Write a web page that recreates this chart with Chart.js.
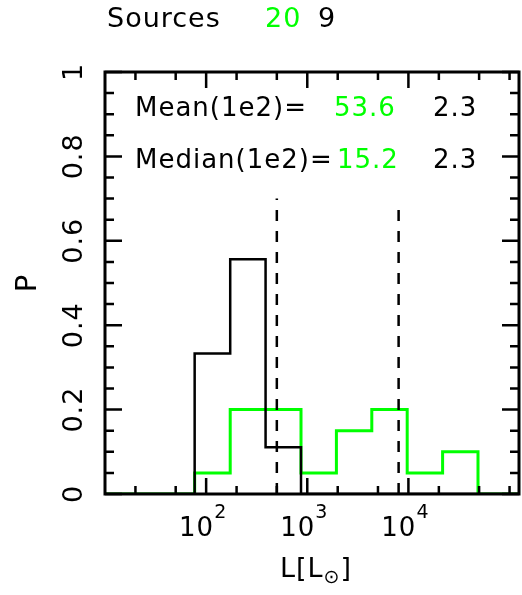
<!DOCTYPE html>
<html>
<head>
<meta charset="utf-8">
<script src="https://cdn.jsdelivr.net/npm/chart.js@4/dist/chart.umd.min.js"></script>
<style>
  html, body { margin: 0; padding: 0; background: #fff; }
  #wrap { width: 522px; height: 595px; }
</style>
</head>
<body>
<div id="wrap"><canvas id="histChart" width="522" height="595"></canvas></div>
<script>
// histogram bin edges, L in Lsun (0.35 dex bins)
const binEdges = [77, 173, 387, 867, 1941, 4345, 9727, 21777, 48753];
const probAll = [0.05, 0.20, 0.20, 0.05, 0.15, 0.20, 0.05, 0.10];   // green, 20 sources
const probSub = [0.333, 0.556, 0.111, 0, 0, 0, 0, 0];               // black, 9 sources
const markerX = [500, 8000];
const markerTop = [0.70, 0.68];
const xRange = [10, 124000];

const xMajor = [100, 1000, 10000];
const xMajorExp = ['2', '3', '4'];
const xMinor = [20, 50, 200, 500, 2000, 5000, 20000, 50000, 100000];
const yMajor = [0, 0.2, 0.4, 0.6, 0.8, 1];
const yMajorLabels = ['0', '0.2', '0.4', '0.6', '0.8', '1'];
const yMinor = [0.05, 0.1, 0.15, 0.25, 0.3, 0.35, 0.45, 0.5, 0.55, 0.65, 0.7, 0.75, 0.85, 0.9, 0.95];

const sourceCounts = ['20', '9'];
const statNames = ['Mean(1e2)=', 'Median(1e2)='];
const statAll = ['53.6', '15.2'];
const statSub = ['2.3', '2.3'];

const GREEN = '#00ff00';
const FONT = '"DejaVu Sans", sans-serif';

function stepPoints(vals) {
    const pts = [{ x: xRange[0], y: 0 }];
    vals.forEach((v, i) => pts.push({ x: binEdges[i], y: v }));
    pts.push({ x: binEdges[vals.length], y: 0 });
    pts.push({ x: xRange[1], y: 0 });
    return pts;
}

function markerLine(i) {
    return {
        data: [{ x: markerX[i], y: 0 }, { x: markerX[i], y: markerTop[i] }],
        borderColor: '#000',
        borderWidth: 2.5,
        borderDash: [11, 10]
    };
}

const framePlugin = {
    id: 'frame',
    afterDraw(chart) {
        const c = chart.ctx;
        const a = chart.chartArea;
        const xs = chart.scales.x, ys = chart.scales.y;
        c.save();
        c.strokeStyle = '#000';
        c.fillStyle = '#000';

        // inward ticks on all four sides
        c.lineWidth = 2.5;
        const tick = (px, len, vertical) => {
            c.beginPath();
            if (vertical) {
                c.moveTo(px, a.bottom); c.lineTo(px, a.bottom - len);
                c.moveTo(px, a.top); c.lineTo(px, a.top + len);
            } else {
                c.moveTo(a.left, px); c.lineTo(a.left + len, px);
                c.moveTo(a.right, px); c.lineTo(a.right - len, px);
            }
            c.stroke();
        };
        xMajor.forEach(v => tick(xs.getPixelForValue(v), 16, true));
        xMinor.forEach(v => tick(xs.getPixelForValue(v), 8, true));
        yMajor.forEach(v => tick(ys.getPixelForValue(v), 17, false));
        yMinor.forEach(v => tick(ys.getPixelForValue(v), 9, false));

        // frame
        c.lineWidth = 3;
        c.strokeRect(a.left, a.top, a.right - a.left, a.bottom - a.top);

        c.letterSpacing = '1px';

        // x tick labels 10^n
        c.textBaseline = 'alphabetic';
        xMajor.forEach((v, i) => {
            const px = xs.getPixelForValue(v);
            c.font = '26px ' + FONT;
            c.textAlign = 'right';
            c.fillText('10', px + 8, a.bottom + 42);
            c.font = '19px ' + FONT;
            c.textAlign = 'left';
            c.fillText(xMajorExp[i], px + 8, a.bottom + 24);
        });

        // y tick labels, rotated
        c.font = '27px ' + FONT;
        c.textAlign = 'center';
        c.textBaseline = 'middle';
        yMajor.forEach((v, i) => {
            c.save();
            c.translate(a.left - 30, ys.getPixelForValue(v));
            c.rotate(-Math.PI / 2);
            c.fillText(yMajorLabels[i], 0, 0);
            c.restore();
        });

        // y title
        c.font = '29px ' + FONT;
        c.save();
        c.translate(28, (a.top + a.bottom) / 2);
        c.rotate(-Math.PI / 2);
        c.fillText('P', 0, 0);
        c.restore();

        // x title L[L_sun]
        c.textBaseline = 'alphabetic';
        c.textAlign = 'left';
        c.font = '27px ' + FONT;
        const base = 577;
        const w1 = c.measureText('L[L').width;
        c.font = '19px ' + FONT;
        const w2 = c.measureText('\u2299').width;
        c.font = '27px ' + FONT;
        const w3 = c.measureText(']').width;
        let tx = (a.left + a.right) / 2 + 4 - (w1 + w2 + w3) / 2;
        c.fillText('L[L', tx, base);
        c.font = '19px ' + FONT;
        c.fillText('\u2299', tx + w1, base + 6);
        c.font = '27px ' + FONT;
        c.fillText(']', tx + w1 + w2, base);

        // header
        c.font = '27px ' + FONT;
        c.fillText('Sources', 107, 27);
        c.fillStyle = GREEN;
        c.fillText(sourceCounts[0], 265, 27);
        c.fillStyle = '#000';
        c.fillText(sourceCounts[1], 318, 27);

        // stats inside plot
        c.font = '26px ' + FONT;
        const rows = [116, 168];
        const greenX = [334, 337];
        rows.forEach((y, i) => {
            c.fillStyle = '#000';
            c.fillText(statNames[i], 135, y);
            c.fillStyle = GREEN;
            c.fillText(statAll[i], greenX[i], y);
            c.fillStyle = '#000';
            c.fillText(statSub[i], 433, y);
        });
        c.restore();
    }
};

new Chart(document.getElementById('histChart'), {
    type: 'line',
    data: {
        datasets: [
            markerLine(0),
            markerLine(1),
            { data: stepPoints(probSub), borderColor: '#000', borderWidth: 2.5, stepped: true },
            { data: stepPoints(probAll), borderColor: GREEN, borderWidth: 3, stepped: true }
        ]
    },
    options: {
        responsive: false,
        animation: false,
        events: [],
        layout: { padding: { left: 105, right: 3, top: 72, bottom: 101 } },
        elements: { point: { radius: 0 }, line: { tension: 0, fill: false } },
        plugins: { legend: { display: false }, tooltip: { enabled: false } },
        scales: {
            x: { type: 'logarithmic', min: xRange[0], max: xRange[1], display: false },
            y: { type: 'linear', min: 0, max: 1, display: false }
        }
    },
    plugins: [framePlugin]
});
</script>
</body>
</html>
